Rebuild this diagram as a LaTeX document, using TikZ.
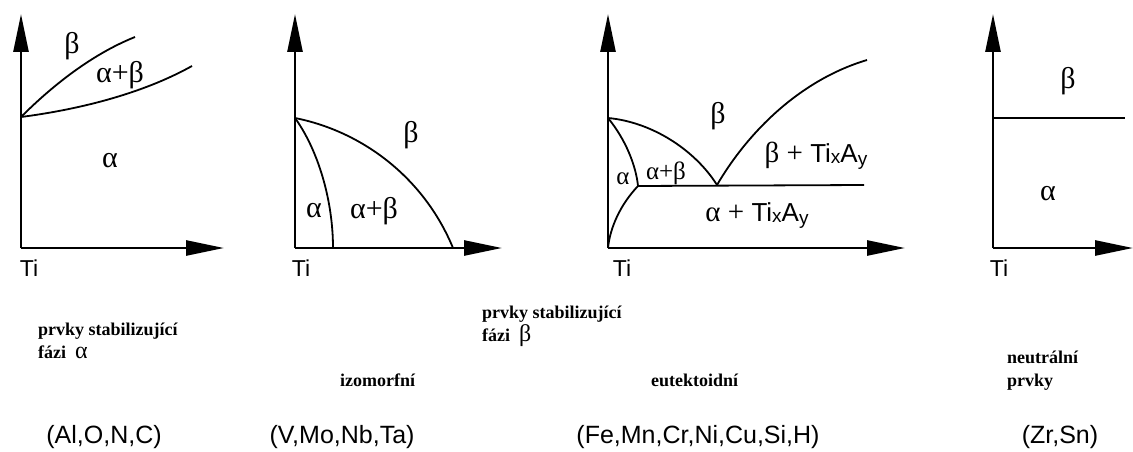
\documentclass[tikz,border=0pt]{standalone}
\usepackage{fontspec}
\setmainfont{Liberation Serif}
\newfontfamily\lsans{Liberation Sans}
\usetikzlibrary{arrows.meta}
\tikzset{
  axis/.style={line width=2.6pt,-{Triangle[length=38pt,width=15pt]}},
  curve/.style={line width=1.8pt},
  greek/.style={font=\fontsize{30}{32}\selectfont, inner sep=0pt},
  greeksm/.style={font=\fontsize{25}{28}\selectfont, inner sep=0pt},
  tilab/.style={font=\lsans\fontsize{23}{25}\selectfont, inner sep=0pt},
  phaselab/.style={font=\fontsize{29}{31}\selectfont, inner sep=0pt},
  captext/.style={font=\bfseries\fontsize{18}{23}\selectfont, inner sep=0pt, anchor=base west, align=left},
  elems/.style={font=\lsans\fontsize{25}{28}\selectfont, inner sep=0pt},
}
\newcommand{\TiXAy}{{\lsans\fontsize{26}{28}\selectfont Ti\raisebox{-1pt}{\fontsize{19}{20}\selectfont x}A\raisebox{-3pt}{\fontsize{19}{20}\selectfont y}}}
\begin{document}
\begin{tikzpicture}[x=1pt,y=-1pt]
\useasboundingbox (0,0) rectangle (1133,452);
% ---------- panel 1 ----------
\coordinate (o1) at (21,248);
\coordinate (t1) at (21,14);
\coordinate (r1) at (224,248);
\coordinate (p1) at (21,117);
\coordinate (u1) at (135,37);
\coordinate (l1) at (192,66);
\draw[axis] (o1) -- (t1);
\draw[axis] (o1) -- (r1);
\draw[curve] (p1) .. controls (50,88) and (90,55) .. (u1);
\draw[curve] (p1) .. controls (75,110) and (140,95) .. (l1);
\node[greek] (b1) at (72,46) {β};
\node[greek] (ab1) at (120,75) {α+β};
\node[greek] (a1) at (110,161) {α};
\node[tilab] (ti1) at (29,268) {Ti};
% ---------- panel 2 ----------
\coordinate (o2) at (295,248);
\coordinate (t2) at (295,14);
\coordinate (r2) at (502,248);
\coordinate (p2) at (295,118);
\coordinate (e2) at (453,248);
\coordinate (i2) at (333,248);
\draw[axis] (o2) -- (t2);
\draw[axis] (o2) -- (r2);
\draw[curve] (p2) .. controls (365,132) and (425,180) .. (e2);
\draw[curve] (p2) .. controls (318,150) and (333,200) .. (i2);
\node[greek] (b2) at (411,135) {β};
\node[greek] (a2) at (314,211) {α};
\node[greek] (ab2) at (374,211) {α+β};
\node[tilab] (ti2) at (301,268) {Ti};
% ---------- panel 3 ----------
\coordinate (o3) at (608,248);
\coordinate (t3) at (608,14);
\coordinate (r3) at (905,248);
\coordinate (p3) at (608,118);
\coordinate (eu3) at (717,185);
\coordinate (rt3) at (867,60);
\coordinate (q3) at (638,186);
\coordinate (h3) at (864,185);
\draw[axis] (o3) -- (t3);
\draw[axis] (o3) -- (r3);
\draw[curve] (p3) .. controls (652,122) and (695,150) .. (eu3);
\draw[curve] (eu3) .. controls (748,132) and (800,80) .. (rt3);
\draw[curve] (p3) .. controls (626,140) and (636,166) .. (q3);
\draw[curve] (q3) .. controls (620,205) and (610,228) .. (o3);
\draw[curve] (q3) -- (h3);
\node[greek] (b3) at (718,116) {β};
\node[phaselab] (bt3) at (816,156) {β + \TiXAy};
\node[greeksm] (a3) at (623,179) {α};
\node[greeksm] (ab3) at (666,173) {α+β};
\node[phaselab] (at3) at (757,216) {α + \TiXAy};
\node[tilab] (ti3) at (622,268) {Ti};
% ---------- panel 4 ----------
\coordinate (o4) at (993,248);
\coordinate (t4) at (993,14);
\coordinate (r4) at (1133,248);
\coordinate (p4) at (993,118);
\coordinate (e4) at (1125,118);
\draw[axis] (o4) -- (t4);
\draw[axis] (o4) -- (r4);
\draw[curve] (p4) -- (e4);
\node[greek] (b4) at (1068,81) {β};
\node[greek] (a4) at (1048,194) {α};
\node[tilab] (ti4) at (999,268) {Ti};
% ---------- captions ----------
\node[captext] (c1) at (38,358) {prvky stabilizující\\fázi\enspace{\mdseries\fontsize{24}{23}\selectfont α}};
\node[captext] (c2) at (482,341) {prvky stabilizující\\fázi\enspace{\mdseries\fontsize{24}{23}\selectfont β}};
\node[captext] (c3) at (340,386) {izomorfní};
\node[captext] (c4) at (651,386) {eutektoidní};
\node[captext] (c5) at (1007,386) {neutrální\\prvky};
\node[elems] (l1n) at (104,437) {(Al,O,N,C)};
\node[elems] (l2n) at (342,437) {(V,Mo,Nb,Ta)};
\node[elems] (l3n) at (698,437) {(Fe,Mn,Cr,Ni,Cu,Si,H)};
\node[elems] (l4n) at (1060,437) {(Zr,Sn)};
\end{tikzpicture}
\end{document}
